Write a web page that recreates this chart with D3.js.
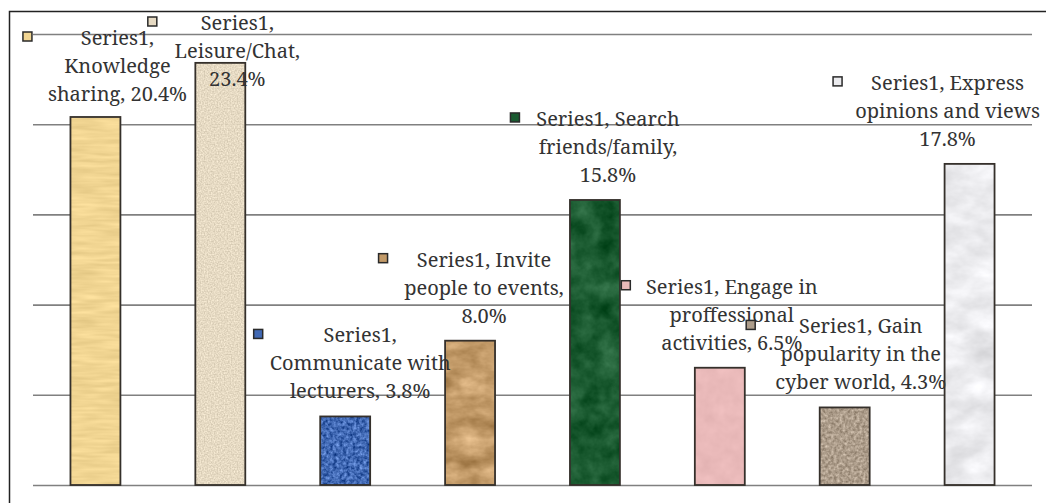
<!DOCTYPE html>
<html>
<head>
<meta charset="utf-8">
<script src="https://cdn.jsdelivr.net/npm/d3@7"></script>
<style>
  body { margin: 0; background: #fff; }
  svg { display: block; }
</style>
</head>
<body>
<svg></svg>
<script>
// data
let categories = ['Knowledge sharing', 'Leisure/Chat', 'Communicate with lecturers', 'Invite people to events',
                  'Search friends/family', 'Engage in proffessional activities', 'Gain popularity in the cyber world',
                  'Express opinions and views'];
let values = [20.4, 23.4, 3.8, 8.0, 15.8, 6.5, 4.3, 17.8];
let yTicks = [0, 5, 10, 15, 20, 25];
// label text as it is wrapped in the picture
let labelLines = [
    ['Series1,', 'Knowledge', 'sharing, 20.4%'],
    ['Series1,', 'Leisure/Chat,', '23.4%'],
    ['Series1,', 'Communicate with', 'lecturers, 3.8%'],
    ['Series1, Invite', 'people to events,', '8.0%'],
    ['Series1, Search', 'friends/family,', '15.8%'],
    ['Series1, Engage in', 'proffessional', 'activities, 6.5%'],
    ['Series1, Gain', 'popularity in the', 'cyber world, 4.3%'],
    ['Series1, Express', 'opinions and views', '17.8%']
];

// styles / layout (not data)
let fills = ['#f1d592', '#e6dac3', '#4169b4', '#c29a68', '#1a5a30', '#e9b9b9', '#ad9d8b', '#ebebee'];
let tex = [ // [baseFrequency, amplitude, numOctaves]
    ['0.03 0.25', 0.14, 2], ['0.7 0.7', 0.28, 1], ['0.3', 0.6, 3], ['0.035 0.06', 0.4, 4],
    ['0.05', 0.3, 4], ['0.06', 0.08, 3], ['0.35', 0.45, 2], ['0.03 0.05', 0.2, 4]
];
// label block: dx from bar centre, fixed first-line y (or null = above bar), marker x offset from text centre
let labelLayout = [
    {dx: 22, top: 38, mx: -90}, {dx: 17, top: 23, mx: -85}, {dx: 15, top: null, mx: -102}, {dx: 14, top: null, mx: -101},
    {dx: 13, top: null, mx: -93}, {dx: 12, top: null, mx: -106}, {dx: 16, top: null, mx: -110}, {dx: -22, top: null, mx: -110}
];
let fontFamily = "'Noto Serif', 'DejaVu Serif', serif";

let svgWidth = 1046, svgHeight = 503;
let margin = {left: 33, right: 14, top: 34, bottom: 18};

let svg = d3.select('svg')
            .attr('width', svgWidth)
            .attr('height', svgHeight);

let x = d3.scaleBand()
          .domain(categories)
          .range([margin.left, svgWidth - margin.right])
          .paddingInner(0.6)
          .paddingOuter(0.3);

let y = d3.scaleLinear()
          .domain([0, 25])
          .range([svgHeight - margin.bottom, margin.top]);

// texture filters
let defs = svg.append('defs');
fills.forEach((c, i) => {
    let rgb = d3.rgb(c), t = tex[i], a = t[1];
    let f = defs.append('filter').attr('id', 'tex' + i)
                .attr('color-interpolation-filters', 'sRGB')
                .attr('x', 0).attr('y', 0).attr('width', 1).attr('height', 1);
    f.append('feTurbulence').attr('type', 'fractalNoise')
     .attr('baseFrequency', t[0]).attr('numOctaves', t[2]).attr('seed', i * 7 + 3).attr('result', 'n');
    let row = v => a + ' 0 0 0 ' + (v / 255 - a / 2);
    f.append('feColorMatrix').attr('in', 'n').attr('type', 'matrix')
     .attr('values', [row(rgb.r), row(rgb.g), row(rgb.b), '0 0 0 0 1'].join(' '))
     .attr('result', 'c');
    f.append('feComposite').attr('in', 'c').attr('in2', 'SourceGraphic').attr('operator', 'in');
});

// frame (only top and left visible in the picture)
svg.append('path')
   .attr('d', 'M9.5,' + svgHeight + 'V11.5H' + svgWidth)
   .attr('fill', 'none').attr('stroke', '#222').attr('stroke-width', 1.5);

// gridlines
let yAxis = d3.axisLeft(y).tickValues(yTicks)
              .tickSize(-(svgWidth - margin.left - margin.right)).tickFormat('');
let gy = svg.append('g')
            .attr('transform', 'translate(' + margin.left + ',0)')
            .call(yAxis);
gy.select('.domain').remove();
gy.selectAll('line').attr('stroke', '#808080').attr('stroke-width', 1.6);

// bars
let bars = svg.append('g').selectAll('g')
              .data(values)
              .enter()
              .append('g');

bars.append('rect')
    .attr('x', (d, i) => x(categories[i]))
    .attr('y', d => y(d))
    .attr('width', x.bandwidth())
    .attr('height', d => y(0) - y(d))
    .attr('fill', (d, i) => fills[i])
    .attr('filter', (d, i) => 'url(#tex' + i + ')');

bars.append('rect')
    .attr('x', (d, i) => x(categories[i]))
    .attr('y', d => y(d))
    .attr('width', x.bandwidth())
    .attr('height', d => y(0) - y(d))
    .attr('fill', 'none')
    .attr('stroke', '#35302b')
    .attr('stroke-width', 1.8);

// data labels with legend keys
let lineH = 28;
let labels = svg.append('g').selectAll('g')
                .data(values)
                .enter()
                .append('g')
                .attr('transform', (d, i) => {
                    let L = labelLayout[i];
                    let cx = x(categories[i]) + x.bandwidth() / 2 + L.dx;
                    let cy = L.top !== null ? L.top : y(d) - 81;
                    return 'translate(' + cx + ',' + cy + ')';
                });

labels.append('rect')
      .attr('x', (d, i) => labelLayout[i].mx - 4.5)
      .attr('y', -6)
      .attr('width', 9)
      .attr('height', 9)
      .attr('fill', (d, i) => fills[i])
      .attr('stroke', '#2a2a2a')
      .attr('stroke-width', 1.5);

labels.each(function(d, i) {
    d3.select(this).selectAll('text')
      .data(labelLines[i])
      .enter()
      .append('text')
      .attr('text-anchor', 'middle')
      .attr('y', (s, k) => k * lineH + 7)
      .style('font-family', fontFamily)
      .style('font-size', '20px')
      .attr('fill', '#333')
      .text(s => s);
});
</script>
</body>
</html>
